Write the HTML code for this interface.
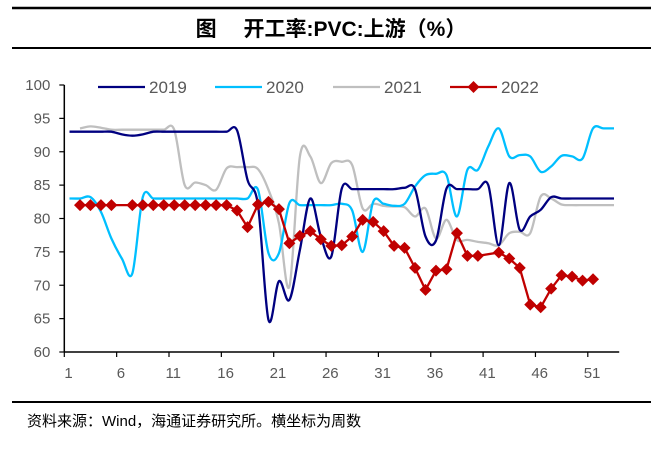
<!DOCTYPE html>
<html><head><meta charset="utf-8"><style>
html,body{margin:0;padding:0;background:#fff;}
body{width:672px;height:448px;position:relative;overflow:hidden;font-family:"Liberation Sans","Noto Sans CJK SC",sans-serif;}
</style></head><body>
<svg width="672" height="448" viewBox="0 0 672 448" id="chart" xmlns="http://www.w3.org/2000/svg">
<line x1="12" y1="8" x2="651" y2="8" stroke="#000" stroke-width="2.5"/>
<text x="331" y="36" text-anchor="middle" font-size="21" font-weight="bold" font-family="'Liberation Sans','Noto Sans CJK SC',sans-serif">图　 开工率:PVC:上游（%）</text>
<line x1="12" y1="48" x2="651" y2="48" stroke="#000" stroke-width="2"/>
<line x1="12" y1="402" x2="651" y2="402" stroke="#000" stroke-width="2"/>
<text x="27" y="426" font-size="15" font-family="'Liberation Sans','Noto Sans CJK SC',sans-serif">资料来源：Wind，海通证券研究所。横坐标为周数</text>
<g id="axes"></g>
<g id="series"></g>
<g id="legend"></g>
</svg>
<script>
const weeks = 53;
const yTicks = [60,65,70,75,80,85,90,95,100];
const xTickLabels = [1,6,11,16,21,26,31,36,41,46,51];
const s2019 = [93,93,93,93,93,92.6,92.4,92.6,93,93,93,93,93,93,93,93,93.2,85.8,82,64.8,70.6,67.8,75.3,83,77.3,74.3,84.5,84.4,84.4,84.4,84.4,84.4,84.6,84.4,77.3,76.7,84.5,84.4,84.4,84.4,85,76,85.3,78.3,80.3,81.3,83.2,83,83,83,83,83,83];
const s2020 = [83,83,83.2,81,77,74,71.8,83.2,83,83,83,83,83,83,83,83,83,83,84.3,74.8,74.8,82.3,82,82,82,82,82.2,81.2,75,82.5,82.2,81.9,82.2,84.8,86.5,86.7,86.5,80.3,87.3,87.3,90.8,93.5,89.3,89.5,89.3,87,87.8,89.4,89.3,89,93.5,93.5,93.5];
const s2021 = [null,93.5,93.8,93.6,93.3,93.3,93.3,93.3,93.3,93.3,93.3,85,85.4,85,84.3,87.5,87.7,87.7,87.4,84.3,79.3,69.8,89.3,89.3,85.3,88.3,88.5,88,81.5,82.2,81.9,81.8,81.7,80.3,81.5,77,79.8,76.8,76.8,76.5,76.3,76,77.8,78,77.8,83.3,83,82.1,82,82,82,82,82];
const s2022 = [null,82,82,82,82,null,82,82,82,82,82,82,82,82,82,82,81.2,78.7,82.1,82.5,81.4,76.3,77.4,78.1,76.9,75.9,76,77.3,79.8,79.5,78.1,75.9,75.6,72.6,69.3,72.2,72.4,77.8,74.4,74.4,null,74.9,74,72.6,67.1,66.7,69.5,71.5,71.3,70.7,70.9,null,null];
const seriesNames = ["2019","2020","2021","2022"];

const X0 = 64.3, BW = 10.47, YTOP = 85, YBOT = 352, VMIN = 60, VMAX = 100;
function xOf(w){ return X0 + (w - 0.5) * BW; }
function yOf(v){ return YBOT - (v - VMIN) / (VMAX - VMIN) * (YBOT - YTOP); }
const NS = "http://www.w3.org/2000/svg";
function mk(tag, attrs, parent){ const e = document.createElementNS(NS, tag); for (const k in attrs) e.setAttribute(k, attrs[k]); parent.appendChild(e); return e; }

const axes = document.getElementById('axes');
const xEnd = X0 + weeks * BW;
let yl = mk('line', {x1:X0, y1:YTOP, x2:X0, y2:YBOT, stroke:'#000', 'stroke-width':1.5}, axes);


let xl = mk('line', {x1:X0, y1:YBOT, x2:xEnd, y2:YBOT, stroke:'#000', 'stroke-width':1.5}, axes);


yTicks.forEach(v => {
  const y = yOf(v);
  const t = mk('line', {x1:X0-5, y1:y, x2:X0, y2:y, stroke:'#000', 'stroke-width':1.2}, axes);
  
  
  const lb = mk('text', {x:X0-14, y:y+5, 'text-anchor':'end', 'font-size':15, fill:'#595959'}, axes);
  lb.textContent = v;
  
  
});
xTickLabels.forEach(w => {
  const tx = X0 + (w - 1) * BW;
  const t = mk('line', {x1:tx, y1:YBOT, x2:tx, y2:YBOT+5, stroke:'#000', 'stroke-width':1.2}, axes);
  
  
  const lb = mk('text', {x:xOf(w)-1, y:YBOT+26, 'text-anchor':'middle', 'font-size':15, fill:'#595959'}, axes);
  lb.textContent = w;
  
  
});

function smoothPath(pts){
  if (pts.length < 2) return '';
  let d = 'M' + pts[0][0].toFixed(1) + ',' + pts[0][1].toFixed(1);
  for (let i = 0; i < pts.length - 1; i++) {
    const p0 = pts[i-1] || pts[i], p1 = pts[i], p2 = pts[i+1], p3 = pts[i+2] || p2;
    const c1 = [p1[0] + (p2[0]-p0[0])/6, p1[1] + (p2[1]-p0[1])/6];
    const c2 = [p2[0] - (p3[0]-p1[0])/6, p2[1] - (p3[1]-p1[1])/6];
    d += ' C' + c1[0].toFixed(1)+','+c1[1].toFixed(1)+' '+c2[0].toFixed(1)+','+c2[1].toFixed(1)+' '+p2[0].toFixed(1)+','+p2[1].toFixed(1);
  }
  return d;
}
function pts(arr){ const p = []; arr.forEach((v,i) => { if (v !== null) p.push([xOf(i+1), yOf(v)]); }); return p; }

const sg = document.getElementById('series');
const cfg = [[s2019,'#000080','line-2019'],[s2020,'#00BFFF','line-2020'],[s2021,'#BFBFBF','line-2021']];
[cfg[2], cfg[1], cfg[0]].forEach(c => {
  const p = mk('path', {d:smoothPath(pts(c[0])), fill:'none', stroke:c[1], 'stroke-width':2.3}, sg);
  
  
});
const rp = pts(s2022);
const rl = mk('polyline', {points:rp.map(q => q[0].toFixed(1)+','+q[1].toFixed(1)).join(' '), fill:'none', stroke:'#C00000', 'stroke-width':2.3}, sg);


const hasMarker = (i) => !(i === 5);
s2022.forEach((v,i) => {
  if (v === null || !hasMarker(i)) return;
  const x = xOf(i+1), y = yOf(v), r = 6;
  const m = mk('polygon', {points:`${x},${y-r} ${x+r},${y} ${x},${y+r} ${x-r},${y}`, fill:'#C00000'}, sg);
  
  
});

const lg = document.getElementById('legend');
const legendItems = [[98,'#000080'],[215,'#00BFFF'],[333,'#BFBFBF'],[450,'#C00000']];
legendItems.forEach((it,k) => {
  const g = mk('g', {}, lg);
  
  
  mk('line', {x1:it[0], y1:87, x2:it[0]+47, y2:87, stroke:it[1], 'stroke-width':2.3}, g);
  if (k === 3) { const cx = it[0]+23.5; mk('polygon', {points:`${cx},81 ${cx+6},87 ${cx},93 ${cx-6},87`, fill:'#C00000'}, g); }
  const t = mk('text', {x:it[0]+51, y:93, 'font-size':17, fill:'#595959'}, g);
  t.textContent = seriesNames[k];
});
</script>
</body></html>
